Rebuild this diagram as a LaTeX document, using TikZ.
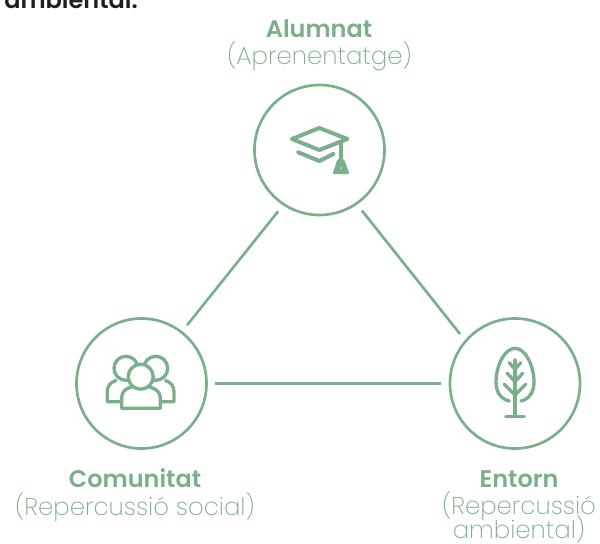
\documentclass[tikz,border=0pt]{standalone}
\usepackage{fontspec}
\setmainfont{Poppins}
\newfontfamily\lightfont{Poppins ExtraLight}
\newfontfamily\titlefont{Poppins SemiBold}
\definecolor{sage}{HTML}{7BAF8C}
\definecolor{sagelight}{HTML}{7BAF8C}
\definecolor{inkdark}{HTML}{1E1E1E}
\tikzset{
	ringnode/.style={draw=sage,circle,line width=2pt,minimum size=97.5pt,inner sep=0pt,outer sep=6.7pt},
	linkline/.style={draw=sage,line width=2pt},
	iconline/.style={draw=sage,line width=2.5pt,line cap=round,line join=round},
	titletext/.style={anchor=base,inner sep=0pt,text=sage,font=\fontsize{18}{20}\selectfont\titlefont},
	subtext/.style={anchor=base,inner sep=0pt,text=sagelight,font=\fontsize{18.3}{17}\selectfont\lightfont},
}
\begin{document}
\begin{tikzpicture}[x=0.75pt,y=0.75pt,yscale=-1,xscale=1]
	\useasboundingbox (0,0) rectangle (600,543);

	% Circles
	\node [ringnode] (alumnat) at (319.5,150) {};
	\node [ringnode] (comunitat) at (141.5,383.5) {};
	\node [ringnode] (entorn) at (515,383.5) {};

	%Straight Lines
	\draw [linkline] (alumnat.236) -- (comunitat.52);
	\draw [linkline] (alumnat.305) -- (entorn.138);
	\draw [linkline] (comunitat.east) -- (entorn.west);

	% Cap icon
	\draw [iconline,line width=3pt] (319.3,128) -- (347.5,139) -- (319.3,150) -- (292,139) -- cycle;
	\draw [iconline,line width=3pt] (298.3,152.3) -- (319.3,161) -- (333.3,154);
	\draw [iconline,line width=3pt] (340.7,143) -- (340.7,162);
	\fill [sage,even odd rule,rounded corners=1pt] (337.5,159) -- (344,159) -- (349.5,174) -- (332.5,174) -- cycle (341,168) circle [radius=1];

	% People icon
	\draw [iconline] (120.7,401.7) -- (107.3,401.7) -- (107.3,392) .. controls (107.3,386) and (110,382.5) .. (116,380.5);
	\draw [iconline] (160.3,401.7) -- (174,401.7) -- (174,392) .. controls (174,386) and (171,382.5) .. (165.5,380.5);
	\draw [iconline] (126,368.3) circle [radius=12];
	\draw [iconline] (155.7,368.3) circle [radius=12];
	\draw [iconline,fill=white] (121.7,408.3) -- (121.7,398) .. controls (121.7,392) and (125,389) .. (131,387) -- (150,387) .. controls (156,389) and (160.3,392) .. (160.3,398) -- (160.3,408.3) -- cycle;
	\draw [iconline,fill=white] (140.7,376.7) circle [radius=12.5];

	% Tree icon
	\draw [iconline] (509.3,401) .. controls (500,399) and (496,391) .. (496,381.7) .. controls (496,367) and (504,348.3) .. (515,348.3) .. controls (526,348.3) and (534,367) .. (534,381.7) .. controls (534,391) and (530,399) .. (521,401);
	\draw [iconline] (515,360) -- (515,416.7);
	\draw [iconline] (505.7,416.7) -- (524.3,416.7);
	\draw [iconline] (504.3,384.3) -- (515,395) -- (525.7,384.3);
	\draw [iconline] (507.3,373.3) -- (515,381.7) -- (522.7,373.3);
	\draw [iconline] (509.3,362.7) -- (515,369.3) -- (520.7,362.7);

	% Text Node
	\node [anchor=base west,inner sep=0pt,text=inkdark,font=\fontsize{18}{20}\selectfont\titlefont] (heading) at (4,8) {ambiental.};
	% Text Node
	\node [titletext] (alumnattitle) at (319,37) {Alumnat};
	\node [subtext] (alumnatsub) at (319.5,64) {(Aprenentatge)};
	% Text Node
	\node [titletext] (comunitattitle) at (135,487) {Comunitat};
	\node [subtext] (comunitatsub) at (135,515) {(Repercussió social)};
	% Text Node
	\node [titletext] (entorntitle) at (519,487) {Entorn};
	\node [subtext,align=center] (entornsub) at (519,538) {(Repercussió\\[-5pt]ambiental)};
\end{tikzpicture}
\end{document}
